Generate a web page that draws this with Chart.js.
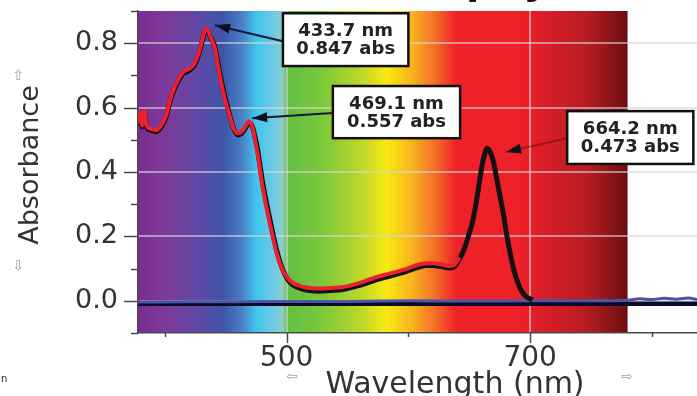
<!DOCTYPE html>
<html>
<head>
<meta charset="utf-8">
<script src="https://cdn.jsdelivr.net/npm/chart.js@4.4.1/dist/chart.umd.min.js"></script>
<style>
  html, body { margin: 0; padding: 0; background: #fff; }
  #wrap { width: 697px; height: 396px; }
</style>
</head>
<body>
<div id="wrap"><canvas id="spectrum"></canvas></div>
<script>
// run 1 (red trace), wavelength in nm / absorbance
const run1Wavelength = [378.5, 380, 381.5, 383, 385, 388, 393, 398, 401, 404, 407, 410, 415, 420, 424, 427, 430, 432, 433.7, 436, 438, 441, 445, 449, 452, 456, 460, 463, 466, 469.1, 472, 474, 476, 480, 484, 488, 492, 497, 501, 505, 512, 519, 527, 536, 545, 552, 562, 571, 580, 590, 599, 608, 615, 620, 626, 634, 638, 642];
const run1Absorbance = [0.55, 0.585, 0.545, 0.59, 0.545, 0.535, 0.53, 0.55, 0.575, 0.62, 0.655, 0.68, 0.71, 0.72, 0.735, 0.76, 0.80, 0.83, 0.847, 0.835, 0.815, 0.785, 0.70, 0.63, 0.59, 0.54, 0.52, 0.525, 0.54, 0.557, 0.54, 0.50, 0.46, 0.36, 0.28, 0.21, 0.146, 0.093, 0.07, 0.056, 0.045, 0.04, 0.038, 0.04, 0.042, 0.047, 0.058, 0.07, 0.08, 0.09, 0.10, 0.112, 0.117, 0.117, 0.114, 0.108, 0.112, 0.134];

// run 2 (black trace)
const run2Wavelength = [378.5, 380, 381.5, 383, 385, 388, 393, 398, 401, 404, 407, 410, 415, 420, 424, 427, 430, 432, 433.7, 436, 438, 441, 445, 449, 452, 456, 460, 463, 466, 469.1, 472, 474, 476, 480, 484, 488, 492, 497, 501, 505, 512, 519, 527, 536, 545, 552, 562, 571, 580, 590, 599, 608, 615, 620, 626, 634, 638, 642, 646, 650, 652, 655, 658, 661, 663, 664.2, 666, 668, 670, 672, 675, 678, 681, 684, 687, 690, 693, 697, 702];
const run2Absorbance = [0.545, 0.58, 0.54, 0.585, 0.54, 0.53, 0.525, 0.545, 0.57, 0.615, 0.65, 0.675, 0.705, 0.715, 0.73, 0.755, 0.795, 0.825, 0.842, 0.832, 0.815, 0.79, 0.71, 0.64, 0.595, 0.54, 0.515, 0.52, 0.535, 0.552, 0.54, 0.51, 0.475, 0.375, 0.295, 0.222, 0.155, 0.095, 0.066, 0.05, 0.038, 0.032, 0.03, 0.032, 0.034, 0.04, 0.05, 0.062, 0.072, 0.082, 0.092, 0.104, 0.11, 0.11, 0.107, 0.102, 0.107, 0.13, 0.162, 0.21, 0.235, 0.29, 0.36, 0.43, 0.46, 0.473, 0.47, 0.455, 0.43, 0.39, 0.33, 0.27, 0.20, 0.14, 0.09, 0.055, 0.03, 0.012, 0.003];

// blank cuvette (blue trace) and zero line
const blankWavelength = [378, 420, 460, 500, 550, 600, 650, 700, 740, 780, 790, 800, 810, 820, 830, 837];
const blankAbsorbance = [-0.004, -0.003, -0.003, -0.002, -0.002, 0.0, -0.001, 0.0, 0.0, 0.002, 0.006, 0.004, 0.008, 0.005, 0.009, 0.004];
const zeroWavelength = [378, 500, 600, 700, 800, 837];
const zeroAbsorbance = [-0.009, -0.009, -0.009, -0.009, -0.009, -0.009];

// callouts: label lines, arrow tip, box corners (nm, abs)
const callouts = [
  { lines: ['433.7 nm', '0.847 abs'], tip: [441.3, 0.856], from: 0.806, box: [497, 0.893, 600, 0.729] },
  { lines: ['469.1 nm', '0.557 abs'], tip: [471.7, 0.567], from: 0.583, box: [538, 0.667, 642.5, 0.505] },
  { lines: ['664.2 nm', '0.473 abs'], tip: [680.3, 0.462], from: 0.505, box: [730.4, 0.589, 834, 0.425], faint: true }
];

// visible light band behind the plot
const spectrumStops = [
  [378, '#7a2c90'], [404, '#7b3c9c'], [431, '#5a4aa8'], [448, '#3c54a8'], [464, '#4a82c8'],
  [475, '#3ec6ee'], [491, '#74cae0'], [497, '#8ccfc8'], [500, '#62be44'], [530, '#7cc83a'],
  [563, '#c2d82a'], [582, '#f8ea12'], [604, '#f8b020'], [623, '#f26a28'], [639, '#ee2228'],
  [691, '#ee2028'], [705, '#e01f28'], [746, '#b81c22'], [779, '#6e1010'], [780, '#6a0f0f']
];

const toPoints = (xs, ys) => xs.map((x, i) => ({ x: x, y: ys[i] }));
const FONT = "'DejaVu Sans', sans-serif";

const spectrumBand = {
  id: 'spectrumBand',
  beforeDraw(chart) {
    const { ctx, chartArea, scales } = chart;
    ctx.save();
    ctx.fillStyle = '#fff';
    ctx.fillRect(0, 0, chart.width, chart.height);
    const x0 = chartArea.left;
    const x1 = scales.x.getPixelForValue(780);
    const g = ctx.createLinearGradient(x0, 0, x1, 0);
    spectrumStops.forEach(([nm, c]) => {
      const t = (scales.x.getPixelForValue(nm) - x0) / (x1 - x0);
      g.addColorStop(Math.min(1, Math.max(0, t)), c);
    });
    ctx.fillStyle = g;
    ctx.fillRect(x0, chartArea.top, x1 - x0, chartArea.bottom - chartArea.top);
    ctx.restore();
  }
};

function arrowHead(ctx, tx, ty, fx, fy, len, half) {
  const a = Math.atan2(ty - fy, tx - fx);
  ctx.beginPath();
  ctx.moveTo(tx, ty);
  ctx.lineTo(tx - len * Math.cos(a) + half * Math.sin(a), ty - len * Math.sin(a) - half * Math.cos(a));
  ctx.lineTo(tx - len * Math.cos(a) - half * Math.sin(a), ty - len * Math.sin(a) + half * Math.cos(a));
  ctx.closePath();
  ctx.fill();
}

const extras = {
  id: 'extras',
  afterDraw(chart) {
    const { ctx, chartArea, scales } = chart;
    const x = scales.x, y = scales.y;
    ctx.save();

    // tick marks: long on labelled values, short between
    ctx.strokeStyle = '#4a4a4a';
    ctx.lineWidth = 1.5;
    y.ticks.forEach(t => {
      const k = Math.round(t.value * 10);
      const len = (k % 2 === 0 && k >= 0 && k <= 8) ? 14 : 7;
      const py = Math.round(y.getPixelForValue(t.value)) + 0.5;
      ctx.beginPath();
      ctx.moveTo(chartArea.left - len, py);
      ctx.lineTo(chartArea.left, py);
      ctx.stroke();
    });
    x.ticks.forEach(t => {
      const len = (t.value % 200 === 100) ? 10 : 4;
      const px = Math.round(x.getPixelForValue(t.value)) + 0.5;
      ctx.beginPath();
      ctx.moveTo(px, chartArea.bottom);
      ctx.lineTo(px, chartArea.bottom + len);
      ctx.stroke();
    });

    // callouts
    callouts.forEach(c => {
      const bx0 = x.getPixelForValue(c.box[0]), by0 = y.getPixelForValue(c.box[1]);
      const bx1 = x.getPixelForValue(c.box[2]), by1 = y.getPixelForValue(c.box[3]);
      const tx = x.getPixelForValue(c.tip[0]), ty = y.getPixelForValue(c.tip[1]);
      const fy = y.getPixelForValue(c.from);
      ctx.strokeStyle = c.faint ? 'rgba(70,0,10,0.4)' : '#141a33';
      ctx.fillStyle = '#0d1020';
      ctx.lineWidth = 2;
      ctx.beginPath();
      ctx.moveTo(bx0, fy);
      ctx.lineTo(tx, ty);
      ctx.stroke();
      arrowHead(ctx, tx, ty, bx0, fy, 15, 5);

      ctx.fillStyle = '#fff';
      ctx.fillRect(bx0, by0, bx1 - bx0, by1 - by0);
      ctx.strokeStyle = '#111';
      ctx.lineWidth = 2.5;
      ctx.strokeRect(bx0, by0, bx1 - bx0, by1 - by0);
      ctx.fillStyle = '#222';
      ctx.font = 'bold 18px ' + FONT;
      ctx.textAlign = 'center';
      ctx.textBaseline = 'middle';
      const cx = (bx0 + bx1) / 2, cy = (by0 + by1) / 2;
      ctx.fillText(c.lines[0], cx, cy - 8);
      ctx.fillText(c.lines[1], cx, cy + 10);
    });

    // axis titles
    ctx.fillStyle = '#333';
    ctx.font = '30px ' + FONT;
    ctx.textAlign = 'center';
    ctx.textBaseline = 'alphabetic';
    ctx.fillText('Wavelength (nm)', 455, 393);
    ctx.save();
    ctx.translate(38, 165);
    ctx.rotate(-Math.PI / 2);
    ctx.font = '27px ' + FONT;
    ctx.fillText('Absorbance', 0, 0);
    ctx.restore();

    // little axis arrows
    ctx.fillStyle = '#a0a0a0';
    ctx.font = '14px ' + FONT;
    ctx.textBaseline = 'middle';
    ctx.fillText('\u21E7', 18, 76);
    ctx.fillText('\u21E9', 18, 266);
    ctx.fillText('\u21E6', 292, 377);
    ctx.fillText('\u21E8', 627, 377);

    // cropped title, only descenders show
    ctx.fillStyle = '#111';
    ctx.font = 'bold 48px "Liberation Sans", Arial, sans-serif';
    ctx.textAlign = 'left';
    ctx.textBaseline = 'alphabetic';
    const pre = ctx.measureText('Chloro').width;
    ctx.fillText('Chlorophyll', 466 - pre, -8);

    ctx.fillStyle = '#222';
    ctx.font = '10px ' + FONT;
    ctx.fillText('n', 1, 382);
    ctx.restore();
  }
};

const gridColor = 'rgba(215,215,215,0.6)';

new Chart(document.getElementById('spectrum'), {
  type: 'line',
  data: {
    datasets: [
      { label: 'Run 1', data: toPoints(run1Wavelength, run1Absorbance), borderColor: '#ec1f30', borderWidth: 4, order: 1 },
      { label: 'Run 2', data: toPoints(run2Wavelength, run2Absorbance), borderColor: '#121212', borderWidth: 5, order: 2 },
      { label: 'Blank', data: toPoints(blankWavelength, blankAbsorbance), borderColor: '#4a55a8', borderWidth: 3, order: 3 },
      { label: 'Zero', data: toPoints(zeroWavelength, zeroAbsorbance), borderColor: '#0a0a26', borderWidth: 4.5, order: 4 }
    ]
  },
  options: {
    responsive: true,
    maintainAspectRatio: false,
    animation: false,
    layout: { padding: { top: 11, left: 0, right: 0, bottom: 0 } },
    elements: {
      point: { radius: 0 },
      line: { cubicInterpolationMode: 'monotone' }
    },
    plugins: {
      legend: { display: false },
      tooltip: { enabled: false },
      title: { display: false }
    },
    scales: {
      x: {
        type: 'linear',
        min: 378,
        max: 837,
        afterFit: s => { s.height = 63; s.paddingLeft = 0; s.paddingRight = 0; },
        border: { display: true, color: '#4a4a4a', width: 1.5 },
        grid: {
          drawTicks: false,
          lineWidth: 2,
          color: c => (c.tick && c.tick.value % 200 === 100) ? gridColor : 'transparent'
        },
        ticks: {
          stepSize: 100,
          includeBounds: false,
          padding: 9,
          color: '#333',
          font: { family: FONT, size: 28 },
          maxRotation: 0,
          autoSkip: false,
          callback: v => (v % 200 === 100) ? String(v) : ''
        }
      },
      y: {
        min: -0.1,
        max: 0.9,
        afterFit: s => { s.width = 138; s.paddingTop = 0; s.paddingBottom = 0; },
        border: { display: true, color: '#4a4a4a', width: 1.5 },
        grid: {
          drawTicks: false,
          lineWidth: 2,
          color: c => {
            const k = c.tick ? Math.round(c.tick.value * 10) : -1;
            return (k % 2 === 0 && k >= 0 && k <= 8) ? gridColor : 'transparent';
          }
        },
        ticks: {
          stepSize: 0.1,
          padding: 20,
          color: '#333',
          font: { family: FONT, size: 27 },
          autoSkip: false,
          callback: v => {
            const k = Math.round(v * 10);
            return (k % 2 === 0 && k >= 0 && k <= 8) ? (k / 10).toFixed(1) : '';
          }
        }
      }
    }
  },
  plugins: [spectrumBand, extras]
});
</script>
</body>
</html>
